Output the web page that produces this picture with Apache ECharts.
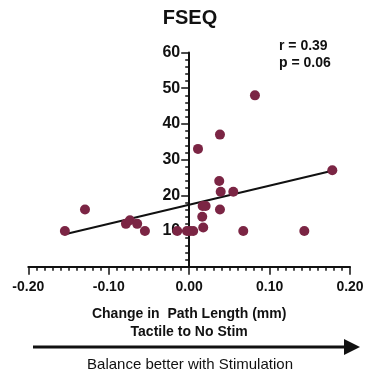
<!DOCTYPE html>
<html>
<head>
<meta charset="utf-8">
<script src="https://cdn.jsdelivr.net/npm/echarts@6/dist/echarts.min.js"></script>
<style>
	html,body{margin:0;padding:0;background:#fff;}
	#fseq-chart{width:366px;height:376px;}
</style>
</head>
<body>
<div id="fseq-chart"></div>
<script>
// change in path length (tactile - no stim), mm
var pathChange = [-0.1545,-0.1295,-0.0786,-0.0736,-0.0646,-0.055,-0.0148,-0.0027,0.001,0.005,
	0.011,0.0168,0.0205,0.0163,0.0175,0.0383,0.0374,0.0392,0.0383,0.0549,0.0673,0.1432,0.178,0.0818];
// FSEQ score
var fseqScore = [10,16,12,13,12,10,10,10,10,10,
	33,17,17,14,11,37,24,21,16,21,10,10,27,48];
// fitted line end points
var fitX = [-0.1545,0.178];
var fitY = [9.1,26.9];
var statLines = ['r = 0.39','p = 0.06'];

var fontName = "'Liberation Sans', Arial, sans-serif";
var dotColor = '#7b2544';

function fseqEcharts(idName){
	var fseqChart = echarts.init(document.getElementById(idName));

	var points = pathChange.map(function(v,i){ return [v,fseqScore[i]]; });
	var fitLine = fitX.map(function(v,i){ return [v,fitY[i]]; });

	var option = {
		animation:false,
		grid:{left:28.3,right:16,top:52.5,bottom:109.3,outerBoundsMode:'none'},
		xAxis:{
			type:'value',
			min:-0.2,max:0.2,interval:0.1,
			splitLine:{show:false},
			axisLine:{lineStyle:{color:'#111',width:2}},
			axisTick:{length:8,lineStyle:{color:'#111',width:1.5}},
			minorTick:{show:true,splitNumber:10,length:4,lineStyle:{color:'#111',width:1.5}},
			axisLabel:{
				margin:13,color:'#111',fontFamily:fontName,fontSize:14,fontWeight:'bold',
				formatter:function(v){ return v.toFixed(2); }
			},
			name:'Change in  Path Length (mm)\nTactile to No Stim',
			nameLocation:'middle',
			nameGap:38,
			nameTextStyle:{color:'#111',fontFamily:fontName,fontSize:14,fontWeight:'bold',lineHeight:18}
		},
		yAxis:{
			type:'value',
			min:0,max:60,interval:10,
			// sit the axis on x = 0 (0.2 of 0.4 range -> half the grid width)
			offset:-160.9,
			splitLine:{show:false},
			axisLine:{onZero:false,lineStyle:{color:'#111',width:2}},
			axisTick:{length:8,lineStyle:{color:'#111',width:1.5}},
			minorTick:{show:true,splitNumber:5,length:4,lineStyle:{color:'#111',width:1.5}},
			axisLabel:{
				margin:9,color:'#111',fontFamily:fontName,fontSize:16,fontWeight:'bold',
				formatter:function(v){ return v===0 ? '' : v; }
			}
		},
		graphic:[
			{
				type:'text',x:190,y:18,
				style:{text:'FSEQ',font:'bold 20px '+fontName,fill:'#111',align:'center',verticalAlign:'middle'}
			},
			{
				type:'text',x:279,y:38,
				style:{text:statLines.join('\n'),font:'bold 14px '+fontName,fill:'#111',lineHeight:17}
			},
			{
				type:'line',
				shape:{x1:33,y1:347,x2:346,y2:347},
				style:{stroke:'#111',lineWidth:3}
			},
			{
				type:'polygon',
				shape:{points:[[344,339],[360,347],[344,355]]},
				style:{fill:'#111'}
			},
			{
				type:'text',x:190,y:365,
				style:{text:'Balance better with Stimulation',font:'15px '+fontName,fill:'#111',align:'center',verticalAlign:'middle'}
			}
		],
		series:[
			{
				type:'line',
				data:fitLine,
				symbol:'none',
				lineStyle:{color:'#111',width:2},
				z:1
			},
			{
				type:'scatter',
				data:points,
				symbolSize:10,
				itemStyle:{color:dotColor,opacity:1},
				z:2
			}
		]
	};

	fseqChart.setOption(option);
}
fseqEcharts('fseq-chart');
</script>
</body>
</html>
